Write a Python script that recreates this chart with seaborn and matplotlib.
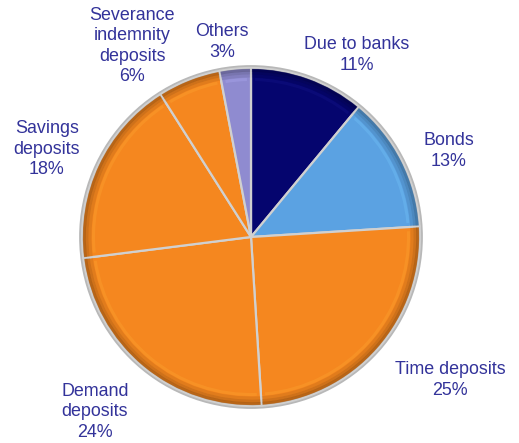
import matplotlib
matplotlib.use("Agg")
import matplotlib.pyplot as plt
import numpy as np
import seaborn as sns
from matplotlib.patches import Wedge, Circle

categories = ["Due to banks", "Bonds", "Time deposits", "Demand\ndeposits",
              "Savings\ndeposits", "Severance\nindemnity\ndeposits", "Others"]
shares = [11, 13, 25, 24, 18, 6, 3]
slice_colors = ["#05056e", "#5ba2e2", "#f5871f", "#f5871f", "#f5871f", "#f5871f", "#8f8bd0"]

# label anchor positions (pixel space, y downwards)
label_xy = [(357, 55), (449, 151), (450, 380), (95, 412), (47, 149), (132, 46), (222, 42)]

sns.set_theme(style="white")
plt.rcParams["font.family"] = ["Liberation Sans", "DejaVu Sans"]
palette = sns.color_palette(slice_colors)

W, H = 519, 443
fig = plt.figure(figsize=(W / 100, H / 100), dpi=100)
ax = fig.add_axes([0, 0, 1, 1])

cx, cy, R = 251, H - 237, 169

# soft outer shadow rim
ax.add_patch(Circle((cx, cy), R + 1.5, facecolor="none", edgecolor="#b8b8b8", lw=2.0, zorder=1))

wedges, _ = ax.pie(shares, colors=palette, startangle=90, counterclock=False,
                   center=(cx, cy), radius=R, frame=True,
                   wedgeprops=dict(edgecolor="#d0d0d0", linewidth=1.6))
for w in wedges:
    w.set_zorder(2)

# bevel shading: darker band near the rim and a light highlight just inside it
for w, col in zip(wedges, palette):
    t1, t2 = w.theta1, w.theta2
    dark = tuple(np.array(col) * 0.55)
    light = tuple(np.clip(np.array(col) * 1.15 + 0.08, 0, 1))
    for r_out, width, a in [(R - 0.8, 3, 0.55), (R - 3.5, 3, 0.35), (R - 6.5, 3, 0.18)]:
        ax.add_patch(Wedge((cx, cy), r_out, t1 + 0.3, t2 - 0.3, width=width,
                           facecolor=dark, edgecolor="none", alpha=a, zorder=3))
    ax.add_patch(Wedge((cx, cy), R - 10, t1 + 1.5, t2 - 1.5, width=3,
                       facecolor=light, edgecolor="none", alpha=0.25, zorder=3))

ax.set_xlim(0, W)
ax.set_ylim(0, H)
ax.set_aspect("equal")
ax.axis("off")

for name, val, (x, y) in zip(categories, shares, label_xy):
    ax.text(x, H - y, f"{name}\n{val}%", ha="center", va="center",
            fontsize=12.9, color="#33339a", linespacing=1.27, zorder=5)

fig.savefig("out.png", dpi=100)
